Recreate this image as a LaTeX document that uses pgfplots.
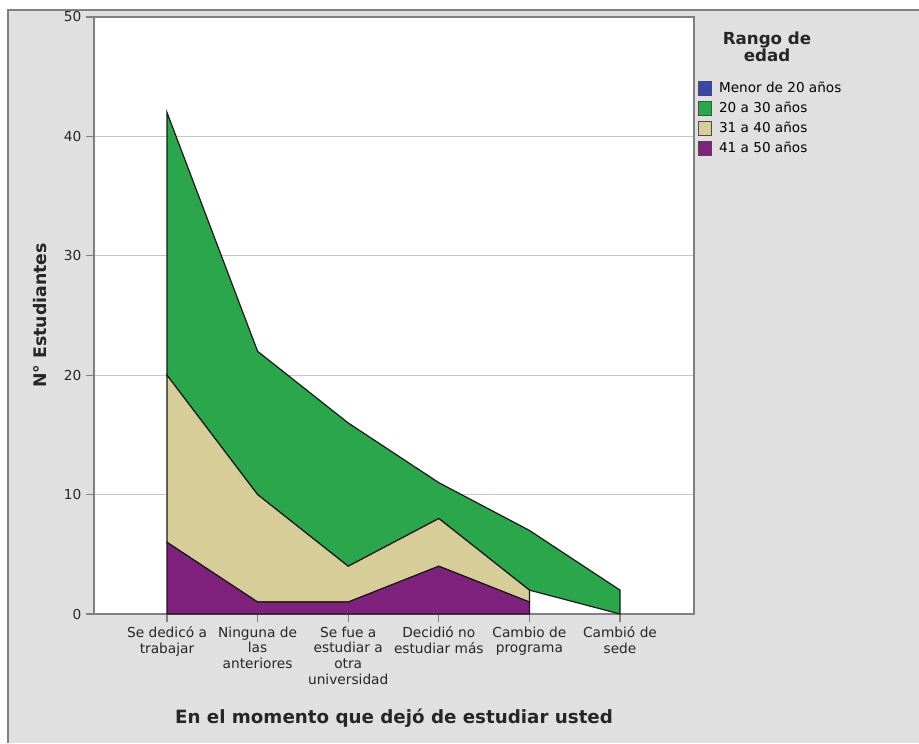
\documentclass[border=0pt]{standalone}
\usepackage{pgfplots}
\pgfplotsset{compat=1.18}
\usepackage{fontspec}
\setmainfont{DejaVu Sans}
\definecolor{bg}{RGB}{225,224,225}
\definecolor{cgreen}{RGB}{42,167,74}
\definecolor{ctan}{RGB}{214,205,152}
\definecolor{cpurple}{RGB}{126,34,126}
\definecolor{cblue}{RGB}{58,72,170}
\definecolor{frame}{RGB}{128,128,128}
\begin{document}
\begin{tikzpicture}
\begin{scope}[x=0.75pt,y=0.75pt]
\path[use as bounding box] (0,0) rectangle (919,743);
\fill[bg] (8,0) rectangle (919,733);
\draw[frame, line width=1pt] (8,0) -- (8,733) -- (919,733);
\end{scope}
\begin{axis}[
  at={(70.5pt,96.75pt)}, anchor=south west,
  scale only axis, width=450pt, height=447.75pt,
  xmin=-0.806, xmax=5.817, ymin=0, ymax=50,
  xtick={0,1,2,3,4,5},
  xticklabels={{Se dedicó a\\trabajar},{Ninguna de\\las\\anteriores},{Se fue a\\estudiar a\\otra\\universidad},{Decidió no\\estudiar más},{Cambio de\\programa},{Cambió de\\sede}},
  ytick={0,10,20,30,40,50},
  tick align=outside, tick pos=left,
  major tick length=6pt,
  tick style={draw=frame, line width=0.9pt},
  ymajorgrids, grid style={draw=black!22, line width=0.6pt},
  axis line style={draw=frame, line width=1.3pt},
  axis background/.style={fill=white},
  ticklabel style={font=\fontsize{10.3}{11.8}\selectfont, text=black!85},
  xticklabel style={align=center},
  /pgf/number format/assume math mode=true,
  ylabel={N° Estudiantes},
  ylabel style={at={(axis description cs:-0.09,0.5)}, anchor=center, font=\bfseries\fontsize{13}{15}\selectfont, text=black!85},
  xlabel={En el momento que dejó de estudiar usted},
  xlabel style={at={(axis description cs:0.5,-0.174)}, anchor=center, font=\bfseries\fontsize{13.7}{15}\selectfont, text=black!85},
  legend style={at={(axis description cs:1.006,0.894)}, anchor=north west, draw=none, fill=none, inner sep=0pt, font=\fontsize{10.2}{11}\selectfont, row sep=3.6pt, nodes={inner sep=1pt}},
  legend cell align=left,
  legend image code/.code={\draw[#1] (0pt,-5.2pt) rectangle (9.8pt,5.2pt); \path (14.5pt,0pt);},
]
\addlegendimage{fill=cblue, draw=black!70}
\addlegendentry{Menor de 20 años}
\addlegendimage{fill=cgreen, draw=black!70}
\addlegendentry{20 a 30 años}
\addlegendimage{fill=ctan, draw=black!70}
\addlegendentry{31 a 40 años}
\addlegendimage{fill=cpurple, draw=black!70}
\addlegendentry{41 a 50 años}
% 20 a 30 anos (top and bottom boundary)
\addplot[forget plot, fill=cgreen, draw=black!90, line width=0.9pt, sharp plot, mark=none]
  coordinates {(0,42) (1,22) (2,16) (3,11) (4,7) (5,2) (5,0) (4,2) (3,8) (2,4) (1,10) (0,20)} -- cycle;
% 31 a 40 anos
\addplot[forget plot, fill=ctan, draw=black!90, line width=0.9pt, sharp plot, mark=none]
  coordinates {(0,20) (1,10) (2,4) (3,8) (4,2) (4,1) (3,4) (2,1) (1,1) (0,6)} -- cycle;
% 41 a 50 anos
\addplot[forget plot, fill=cpurple, draw=black!90, line width=0.9pt, sharp plot, mark=none]
  coordinates {(0,6) (1,1) (2,1) (3,4) (4,1) (4,0) (0,0)} -- cycle;
\end{axis}
\begin{scope}[x=0.75pt,y=0.75pt]
\node[align=center, font=\bfseries\fontsize{12.5}{12.5}\selectfont, text=black!85] at (767,696) {Rango de\\edad};
\end{scope}
\end{tikzpicture}
\end{document}
